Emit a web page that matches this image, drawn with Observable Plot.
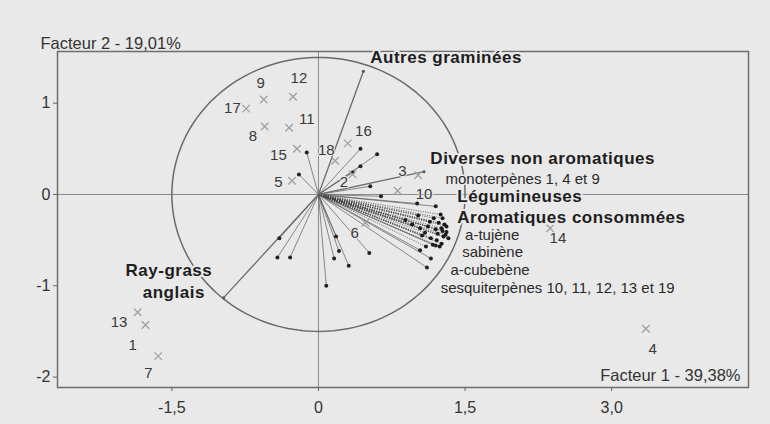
<!DOCTYPE html>
<html><head><meta charset="utf-8">
<script src="https://cdn.jsdelivr.net/npm/d3@7"></script>
<script src="https://cdn.jsdelivr.net/npm/@observablehq/plot@0.6"></script>
<style>
html,body{margin:0;padding:0;background:#e9e9e9;}
#chart{width:770px;height:424px;}
svg{display:block}
</style></head><body><div id="chart"></div>
<script>
// ---- Axis ticks ----
const xTicks = [-1.5, 0, 1.5, 3.0];
const xTickLabels = ["-1,5", "0", "1,5", "3,0"];
const yTicks = [1, 0, -1, -2];
const yTickLabels = ["1", "0", "-1", "-2"];
const xTitle = "Facteur 1 - 39,38%";
const yTitle = "Facteur 2 - 19,01%";
const circleRadius = 1.5;

// ---- Observations (grey crosses) ----
const obsIds    = ["1","2","3","4","5","6","7","8","9","10","11","12","13","14","15","16","17","18"];
const obsX      = [-1.77, 0.35, 1.02, 3.35, -0.27, 0.48, -1.64, -0.55, -0.56, 0.81, -0.30, -0.26, -1.85, 2.37, -0.22, 0.30, -0.74, 0.17];
const obsY      = [-1.43, 0.22, 0.21, -1.47, 0.15, -0.31, -1.77, 0.745, 1.04, 0.04, 0.73, 1.07, -1.29, -0.37, 0.50, 0.56, 0.94, 0.37];
const obsLabelX = [-1.90, 0.26, 0.86, 3.42, -0.41, 0.37, -1.74, -0.67, -0.59, 1.08, -0.12, -0.20, -2.04, 2.45, -0.41, 0.46, -0.88, 0.08];
const obsLabelY = [-1.65, 0.13, 0.25, -1.69, 0.13, -0.42, -1.96, 0.635, 1.22, 0.00, 0.83, 1.27, -1.40, -0.48, 0.43, 0.69, 0.94, 0.49];

// ---- Variables (black dots, vectors from origin) ----
const varX = [-0.12, -0.20, 0.43, 0.60, 0.43, 0.35, 0.53, 0.64, 1.20, 1.01, -0.40, -0.42, -0.29, 0.18, 0.21, 0.16, 0.31, 0.08, 0.52, 1.04, 1.15, 1.11, 1.20];
const varY = [0.46, 0.22, 0.50, 0.44, 0.31, 0.24, 0.09, -0.02, -0.13, -0.10, -0.48, -0.69, -0.69, -0.46, -0.62, -0.70, -0.78, -1.00, -0.64, -0.61, -0.70, -0.80, -0.56];

// dense fan of aromatic variables
const fanX = [1.25, 1.27, 1.23, 1.29, 1.26, 1.31, 1.22, 1.28, 1.33, 1.21, 1.26, 1.15, 1.09, 1.04, 0.96, 0.89, 1.12, 1.18, 1.02, 1.31, 1.24, 1.17, 1.10, 1.30, 1.27, 1.20, 1.14, 1.06];
const fanY = [-0.22, -0.26, -0.31, -0.33, -0.37, -0.41, -0.43, -0.46, -0.48, -0.50, -0.54, -0.48, -0.42, -0.37, -0.33, -0.28, -0.35, -0.26, -0.23, -0.35, -0.57, -0.55, -0.57, -0.44, -0.40, -0.38, -0.30, -0.45];

// ---- Group vectors ----
const groupNames = ["Autres graminées", "Ray-grass anglais", "Diverses non aromatiques"];
const groupX = [0.46, -0.97, 1.08];
const groupY = [1.35, -1.13, 0.25];

// ---- Annotations ----
const annText   = ["Autres graminées", "Diverses non aromatiques", "monoterpènes 1, 4 et 9", "Légumineuses", "Aromatiques consommées", "a-tujène", "sabinène", "a-cubebène", "sesquiterpènes 10, 11, 12, 13 et 19", "Ray-grass", "anglais"];
const annX      = [0.53, 1.145, 1.30, 1.42, 1.42, 1.50, 1.47, 1.35, 1.25, -1.53, -1.48];
const annY      = [1.50, 0.39, 0.165, -0.02, -0.255, -0.45, -0.635, -0.83, -1.03, -0.83, -1.07];
const annKind   = ["boldStart","boldStart","sub","boldStart","boldStart","sub","sub","sub","sub","boldMid","boldMid"];

// build tables
const obs = obsIds.map((id, i) => ({id, x: obsX[i], y: obsY[i], lx: obsLabelX[i], ly: obsLabelY[i]}));
const vars = varX.map((x, i) => ({x, y: varY[i]}));
const fan = fanX.map((x, i) => ({x, y: fanY[i]}));
const groups = groupNames.map((n, i) => ({n, x: groupX[i], y: groupY[i]}));
const ann = annText.map((t, i) => ({t, x: annX[i], y: annY[i], kind: annKind[i]}));
const circle = d3.range(0, 361, 2).map(a => ({x: circleRadius * Math.cos(a * Math.PI / 180), y: circleRadius * Math.sin(a * Math.PI / 180)}));

const BG = "#e9e9e9";
const font = "'Liberation Sans', Arial, Helvetica, sans-serif";

const plot = Plot.plot({
  width: 770, height: 424,
  marginLeft: 57, marginRight: 22, marginTop: 51, marginBottom: 37,
  style: {background: BG, fontFamily: font, color: "#333", overflow: "visible"},
  x: {domain: [-2.67, 4.40], axis: null},
  y: {domain: [-2.114, 1.566], axis: null},
  marks: [
    Plot.ruleX([0], {stroke: "#8a8a8a", strokeWidth: 1}),
    Plot.ruleY([0], {stroke: "#8a8a8a", strokeWidth: 1}),
    Plot.line(circle, {x: "x", y: "y", stroke: "#6a6a6a", strokeWidth: 1.5}),
    Plot.link(fan, {x1: () => 0, y1: () => 0, x2: "x", y2: "y", stroke: "#3a3a3a", strokeWidth: 0.9, strokeOpacity: 0.75, strokeDasharray: "1.2,1.2"}),
    Plot.link(vars, {x1: () => 0, y1: () => 0, x2: "x", y2: "y", stroke: "#5a5a5a", strokeWidth: 0.7}),
    Plot.link(groups, {x1: () => 0, y1: () => 0, x2: "x", y2: "y", stroke: "#6a6a6a", strokeWidth: 1.3}),
    Plot.dot(fan, {x: "x", y: "y", r: 2, fill: "#1a1a1a", stroke: "none"}),
    Plot.dot(vars, {x: "x", y: "y", r: 2, fill: "#222", stroke: "none"}),
    Plot.dot(groups, {x: "x", y: "y", r: 1.5, fill: "#555"}),
    Plot.dot(obs, {x: "x", y: "y", symbol: "times", r: 3.5, stroke: "#a0a0a0", strokeWidth: 1.3}),
    Plot.text(obs, {x: "lx", y: "ly", text: "id", fontSize: 15, fill: "#3a3a3a", stroke: BG, strokeWidth: 2}),
    Plot.frame({stroke: "#6e6e6e", strokeWidth: 1.5}),
    Plot.text(ann.filter(d => d.kind === "sub"), {x: "x", y: "y", text: "t", textAnchor: "start", fontSize: 15, fill: "#2a2a2a", stroke: BG, strokeWidth: 3}),
    Plot.text(ann.filter(d => d.kind === "boldStart"), {x: "x", y: "y", text: "t", textAnchor: "start", fontSize: 17, fontWeight: "bold", fill: "#1e1e1e", stroke: BG, strokeWidth: 4}),
    Plot.text(ann.filter(d => d.kind === "boldMid"), {x: "x", y: "y", text: "t", textAnchor: "middle", fontSize: 17, fontWeight: "bold", fill: "#1e1e1e", stroke: BG, strokeWidth: 4}),
    Plot.axisX(xTicks, {tickFormat: d => xTickLabels[xTicks.indexOf(d)], tickSize: 4, tickPadding: 10, fontSize: 16, stroke: "#666", color: "#333", label: null}),
    Plot.axisY(yTicks, {tickFormat: d => yTickLabels[yTicks.indexOf(d)], tickSize: 4, tickPadding: 3, fontSize: 16, stroke: "#666", color: "#333", label: null}),
    Plot.text([yTitle], {frameAnchor: "top-left", dx: -17, dy: -14, textAnchor: "start", fontSize: 16.5, fill: "#333"}),
    Plot.text([xTitle], {frameAnchor: "bottom-right", dx: -8, dy: -7, textAnchor: "end", fontSize: 16.5, fill: "#333"})
  ]
});
// widen the bold labels slightly, as in the scanned original
plot.querySelectorAll('g[font-weight="bold"]').forEach(g => g.setAttribute("letter-spacing", "0.5"));
document.getElementById("chart").appendChild(plot);
</script>
</body></html>
